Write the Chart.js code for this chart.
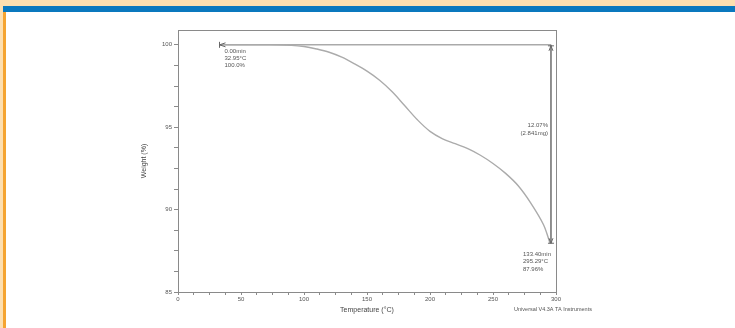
<!DOCTYPE html>
<html>
<head>
<meta charset="utf-8">
<script src="https://cdn.jsdelivr.net/npm/chart.js@4.4.1/dist/chart.umd.min.js"></script>
<style>
  html, body { margin: 0; padding: 0; width: 735px; height: 328px; overflow: hidden; background: #fff; }
  #band { position: absolute; left: 0; top: 0; width: 735px; height: 6px; background: #fddfb0; }
  #bar { position: absolute; left: 3px; top: 6px; width: 732px; height: 6px; background: #0a78be; }
  #edge { position: absolute; left: 0; top: 6px; width: 3px; height: 322px; background: #fddfb0; }
  #edge2 { position: absolute; left: 3px; top: 12px; width: 3px; height: 316px; background: #f5a431; }
  #wrap { position: absolute; left: 0; top: 0; width: 735px; height: 328px; }
</style>
</head>
<body>
<div id="band"></div>
<div id="bar"></div>
<div id="edge"></div>
<div id="edge2"></div>
<div id="wrap"><canvas id="tga"></canvas></div>
<script>
// TGA curve
const temps   = [32.95, 50, 70, 90, 100, 110, 120, 130, 140, 150, 160, 170, 180, 190, 200, 210, 220, 230, 240, 250, 260, 270, 280, 290, 295.29];
const weights = [100.0, 100.0, 100.0, 99.97, 99.9, 99.75, 99.55, 99.25, 98.85, 98.4, 97.85, 97.15, 96.3, 95.45, 94.75, 94.3, 94.0, 93.7, 93.3, 92.8, 92.2, 91.45, 90.4, 89.1, 87.96];

// step change marker (start -> corner -> end)
const stepX = [32.95, 296, 296];
const stepY = [100.0, 100.0, 87.96];

const startLabel = ['0.00min', '32.95°C', '100.0%'];
const stepLabel  = ['12.07%', '(2.841mg)'];
const endLabel   = ['133.40min', '295.29°C', '87.96%'];

const xMin = 0, xMax = 300, xStep = 12.5, xLabelEvery = 50;
const yMin = 85, yMax = 100.9, yStep = 1.25, yLabelEvery = 5;

const FONT = 'Liberation Sans, Arial, sans-serif';
const TEXT = '#555';
const AXIS = '#8a8a8a';

// frame around plot area + annotation texts and marker ticks
const tgaExtras = {
    id: 'tgaExtras',
    afterDraw(chart) {
        const ctx = chart.ctx;
        const a = chart.chartArea;
        const xs = chart.scales.x, ys = chart.scales.y;
        ctx.save();
        ctx.strokeStyle = AXIS;
        ctx.lineWidth = 1;
        ctx.strokeRect(Math.round(a.left) + 0.5, Math.round(a.top) + 0.5, Math.round(a.right - a.left), Math.round(a.bottom - a.top));

        // marker ticks
        const x0 = xs.getPixelForValue(stepX[0]), y0 = ys.getPixelForValue(stepY[0]);
        const x1 = xs.getPixelForValue(stepX[1]), y1 = ys.getPixelForValue(stepY[1]);
        const x2 = xs.getPixelForValue(stepX[2]), y2 = ys.getPixelForValue(stepY[2]);
        ctx.strokeStyle = '#666';
        ctx.beginPath();
        ctx.moveTo(x0, y0 - 3); ctx.lineTo(x0, y0 + 3);
        ctx.moveTo(x0 + 6, y0 - 2); ctx.lineTo(x0, y0); ctx.lineTo(x0 + 6, y0 + 2);
        ctx.moveTo(x1 - 3, y1 + 1); ctx.lineTo(x1 + 3, y1 + 1);
        ctx.moveTo(x1 - 2, y1 + 6); ctx.lineTo(x1, y1 + 1); ctx.lineTo(x1 + 2, y1 + 6);
        ctx.moveTo(x2 - 3, y2); ctx.lineTo(x2 + 3, y2);
        ctx.moveTo(x2 - 2, y2 - 5); ctx.lineTo(x2, y2); ctx.lineTo(x2 + 2, y2 - 5);
        ctx.stroke();

        ctx.fillStyle = TEXT;
        ctx.font = '6px ' + FONT;
        ctx.textBaseline = 'middle';
        ctx.textAlign = 'left';
        startLabel.forEach((t, i) => ctx.fillText(t, x0 + 5, y0 + 7 + i * 7));
        const yMid = ys.getPixelForValue(95.1);
        ctx.textAlign = 'right';
        stepLabel.forEach((t, i) => ctx.fillText(t, x1 - 3, yMid + i * 8));
        ctx.textAlign = 'left';
        endLabel.forEach((t, i) => ctx.fillText(t, x2 - 28, y2 + 11 + i * 7.5));

        ctx.font = '5.5px ' + FONT;
        ctx.textAlign = 'center';
        ctx.fillText('Universal V4.3A TA Instruments', a.right - 3, 309);
        ctx.restore();
    }
};

new Chart(document.getElementById('tga'), {
    type: 'line',
    data: {
        datasets: [{
            label: 'Weight',
            data: temps.map((t, i) => ({ x: t, y: weights[i] })),
            borderColor: '#ababab',
            borderWidth: 1.4,
            pointRadius: 0,
            tension: 0.35,
            fill: false
        }, {
            label: 'Step',
            data: stepX.map((t, i) => ({ x: t, y: stepY[i] })),
            borderColor: '#808080',
            borderWidth: 1,
            pointRadius: 0,
            tension: 0,
            fill: false
        }]
    },
    options: {
        responsive: true,
        maintainAspectRatio: false,
        animation: false,
        layout: { padding: { left: 136, right: 179, top: 30, bottom: 10 } },
        plugins: {
            legend: { display: false },
            tooltip: { enabled: false }
        },
        scales: {
            x: {
                type: 'linear',
                min: xMin,
                max: xMax,
                afterFit: s => { s.height = 26; },
                border: { color: AXIS },
                grid: { drawOnChartArea: false, drawTicks: true, tickLength: 3, color: AXIS },
                ticks: {
                    stepSize: xStep,
                    autoSkip: false,
                    maxRotation: 0,
                    padding: 1,
                    color: TEXT,
                    font: { family: FONT, size: 6 },
                    callback: v => (v % xLabelEvery === 0 ? v : '')
                },
                title: {
                    display: true,
                    text: 'Temperature (°C)',
                    color: '#444',
                    font: { family: FONT, size: 7 },
                    padding: { top: 0, bottom: 4 }
                }
            },
            y: {
                type: 'linear',
                min: yMin,
                max: yMax,
                afterFit: s => { s.width = 42; },
                border: { color: AXIS },
                grid: { drawOnChartArea: false, drawTicks: true, tickLength: 4, color: AXIS },
                ticks: {
                    stepSize: yStep,
                    includeBounds: false,
                    autoSkip: false,
                    padding: 2,
                    color: TEXT,
                    font: { family: FONT, size: 6 },
                    callback: v => (v % yLabelEvery === 0 ? v : '')
                },
                title: {
                    display: true,
                    text: 'Weight (%)',
                    color: '#444',
                    font: { family: FONT, size: 7 },
                    padding: { top: 4, bottom: 0 }
                }
            }
        }
    },
    plugins: [tgaExtras]
});
</script>
</body>
</html>
